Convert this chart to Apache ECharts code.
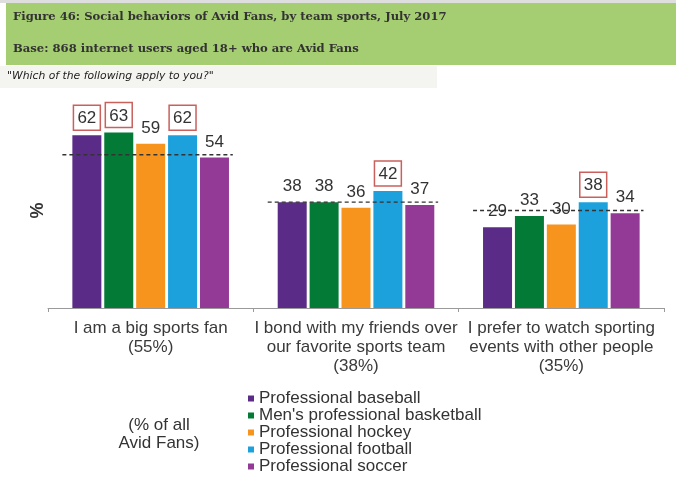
<!DOCTYPE html>
<html>
<head>
<meta charset="utf-8">
<script src="https://cdn.jsdelivr.net/npm/echarts@6/dist/echarts.min.js"></script>
<style>
  html, body { margin: 0; padding: 0; background: #ffffff; }
  #chart { width: 676px; height: 481px; }
</style>
</head>
<body>
<div id="chart"></div>
<script>
// Behaviours asked about, with the share of all Avid Fans in brackets
const categories = [
  'I am a big sports fan\n(55%)',
  'I bond with my friends over\nour favorite sports team\n(38%)',
  'I prefer to watch sporting\nevents with other people\n(35%)'
];
// Share of all Avid Fans for each behaviour (dashed reference lines)
const allFans = [55, 38, 35];

const sports = [
  'Professional baseball',
  "Men's professional basketball",
  'Professional hockey',
  'Professional football',
  'Professional soccer'
];
const baseball   = [62, 38, 29];
const basketball = [63, 38, 33];
const hockey     = [59, 36, 30];
const football   = [62, 42, 38];
const soccer     = [54, 37, 34];

// Values called out with a box, per sport
const boxedBaseball   = [true, false, false];
const boxedBasketball = [true, false, false];
const boxedHockey     = [false, false, false];
const boxedFootball   = [true, true, true];
const boxedSoccer     = [false, false, false];

const sportValues = [baseball, basketball, hockey, football, soccer];
const sportBoxed = [boxedBaseball, boxedBasketball, boxedHockey, boxedFootball, boxedSoccer];
const sportColors = ['#5b2c87', '#037a36', '#f7941e', '#1ca1dc', '#933a97'];

const labelFont = 'Liberation Sans, Arial, sans-serif';

function barSeries(i) {
  return {
    name: sports[i],
    type: 'bar',
    barWidth: 29,
    barGap: '10%',
    itemStyle: { color: sportColors[i] },
    data: sportValues[i].map((v, c) => {
      const boxed = sportBoxed[i][c];
      return {
        value: v,
        label: boxed
          ? { borderColor: '#c9605c', borderWidth: 1.5, padding: [5, 4, 3, 4], distance: 5 }
          : { distance: 7 }
      };
    }),
    label: {
      show: true,
      position: 'top',
      color: '#333333',
      fontFamily: labelFont,
      fontSize: 17,
      lineHeight: 17
    }
  };
}

const chart = echarts.init(document.getElementById('chart'), null, { renderer: 'canvas' });

chart.setOption({
  backgroundColor: '#ffffff',
  animation: false,
  graphic: [
    { type: 'rect', shape: { x: 0, y: 0, width: 676, height: 3 }, style: { fill: '#dedede' }, silent: true },
    { type: 'rect', shape: { x: 6, y: 3, width: 670, height: 62 }, style: { fill: '#a5cd72' }, silent: true },
    { type: 'rect', shape: { x: 0, y: 66, width: 437, height: 22 }, style: { fill: '#f4f4f1' }, silent: true },
    {
      type: 'text', left: 13, top: 11,
      style: {
        text: 'Figure 46: Social behaviors of Avid Fans, by team sports, July 2017',
        font: 'bold 11.6px "DejaVu Serif", serif', fill: '#333333'
      }
    },
    {
      type: 'text', left: 13, top: 43,
      style: {
        text: 'Base: 868 internet users aged 18+ who are Avid Fans',
        font: 'bold 11.6px "DejaVu Serif", serif', fill: '#333333'
      }
    },
    {
      type: 'text', left: 7, top: 71,
      style: {
        text: '"Which of the following apply to you?"',
        font: 'italic 10.8px "DejaVu Sans", sans-serif', fill: '#222222'
      }
    },
    {
      type: 'text',
      style: {
        x: 159, y: 434,
        text: '(% of all\nAvid Fans)',
        font: '17px ' + labelFont, fill: '#333333',
        align: 'center', verticalAlign: 'middle', lineHeight: 18
      }
    }
  ],
  legend: {
    orient: 'vertical',
    left: 248,
    top: 390,
    padding: 0,
    icon: 'rect',
    itemWidth: 6,
    itemHeight: 6,
    itemGap: 0,
    itemTextGap: 4,
    data: sports,
    textStyle: { color: '#333333', fontFamily: labelFont, fontSize: 17, lineHeight: 17 }
  },
  grid: { left: 48, right: 12, top: 113, bottom: 173, containLabel: false },
  xAxis: {
    type: 'category',
    data: categories,
    axisLine: { lineStyle: { color: '#9a9a9a', width: 1 } },
    axisTick: { show: true, length: 4, lineStyle: { color: '#9a9a9a' } },
    axisLabel: {
      interval: 0,
      margin: 11,
      color: '#3a3a3a',
      fontFamily: labelFont,
      fontSize: 17,
      lineHeight: 19
    }
  },
  yAxis: {
    type: 'value',
    min: 0,
    max: 70,
    name: '%',
    nameLocation: 'middle',
    nameRotate: 90,
    nameGap: 1,
    nameTextStyle: { color: '#333333', fontFamily: labelFont, fontSize: 18, fontWeight: 'bold' },
    axisLine: { show: false },
    axisTick: { show: false },
    axisLabel: { show: false },
    splitLine: { show: false }
  },
  series: [
    barSeries(0), barSeries(1), barSeries(2), barSeries(3), barSeries(4),
    {
      name: 'All Avid Fans',
      type: 'custom',
      z: 5,
      data: allFans.map((v, c) => [c, v]),
      renderItem: function (params, api) {
        const p = api.coord([api.value(0), api.value(1)]);
        const w = api.size([1, 0])[0];
        return {
          type: 'line',
          shape: { x1: p[0] - 0.43 * w, y1: p[1], x2: p[0] + 0.40 * w, y2: p[1] },
          style: { stroke: '#333333', lineWidth: 1.4, lineDash: [4, 3] }
        };
      }
    }
  ]
});
</script>
</body>
</html>
